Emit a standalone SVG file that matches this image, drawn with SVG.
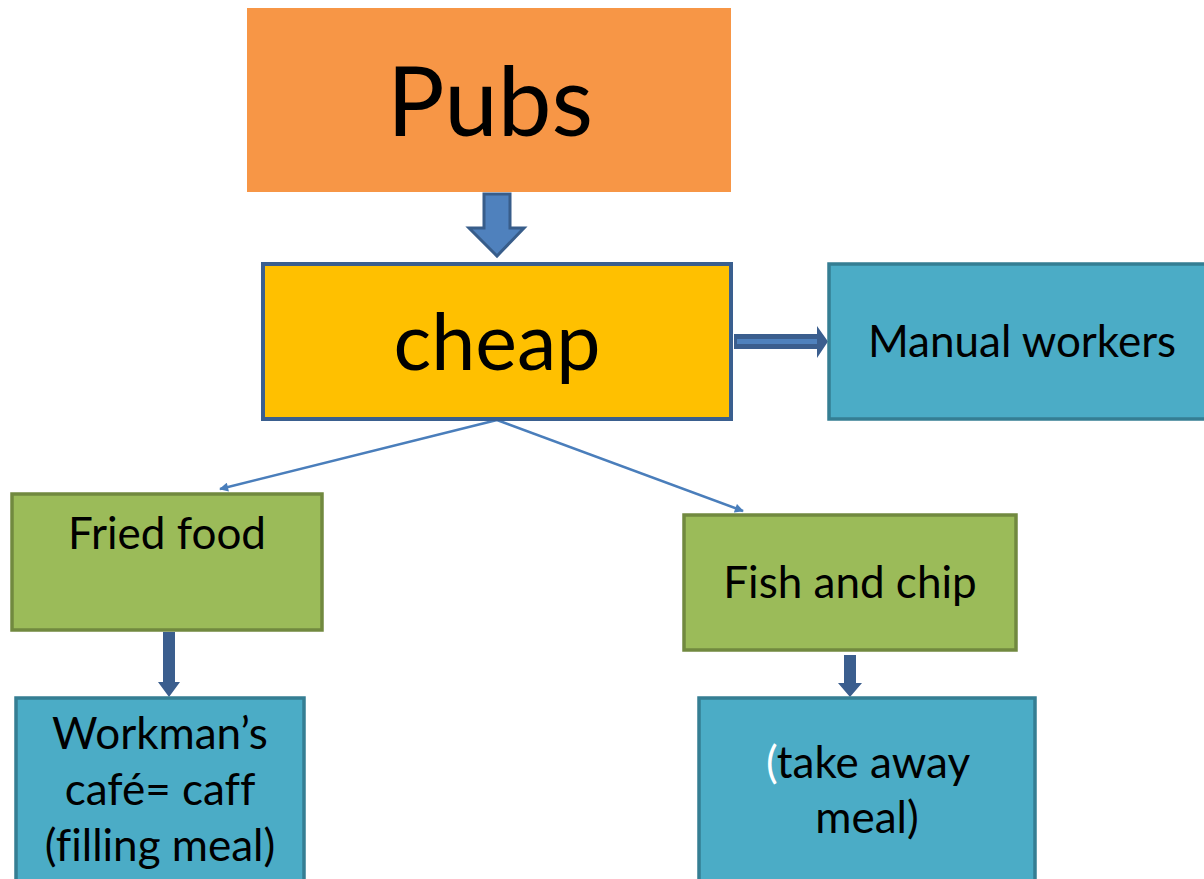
<svg xmlns="http://www.w3.org/2000/svg" width="1204" height="879" viewBox="0 0 1204 879">
<defs>
<style>
text{font-family:Lato,"Open Sans","Liberation Sans",sans-serif;fill:#000;text-anchor:middle;font-variant-ligatures:none}
.t{font-size:44px}
.blue{fill:#4BACC6;stroke:#357E93;stroke-width:3.5}
.green{fill:#9BBB59;stroke:#71893F;stroke-width:3.5}
.thin{stroke:#4A7EBB;stroke-width:2.5;fill:none}
.dk{fill:#3B5E8E}
</style>
<marker id="ah" viewBox="0 0 10 10" refX="9" refY="5" markerWidth="10" markerHeight="9" markerUnits="userSpaceOnUse" orient="auto"><path d="M0,0 L10,5 L0,10 z" fill="#4A7EBB"/></marker>
</defs>
<g id="connectors">
<path d="M484,194 H510 V228 H524 L497,256 L469,228 H484 Z" fill="#4F81BD" stroke="#385D8A" stroke-width="3" stroke-linejoin="miter"/>
<path d="M734,334 H817 V326 L828,341.5 L817,358 V349 H734 Z" fill="#3B5E8E"/>
<rect x="737" y="339" width="80" height="5" fill="#4F81BD"/>
<path class="thin" d="M497,420 L220,489" marker-end="url(#ah)"/>
<path class="thin" d="M497,420 L743,511" marker-end="url(#ah)"/>
<path class="dk" d="M163,632 H175 V682 H180 L169,697 L158,682 H163 Z"/>
<path class="dk" d="M844,655 H856 V683 H862 L850,697 L838,683 H844 Z"/>
</g>
<g id="pubs">
<rect x="247" y="8" width="484" height="184" fill="#F79646"/>
<text x="490" y="136" font-size="96">Pubs</text>
</g>
<g id="cheap">
<rect x="263" y="264" width="468" height="155" fill="#FFC000" stroke="#3A5F8F" stroke-width="4"/>
<text x="497" y="370" font-size="79">cheap</text>
</g>
<g id="manual">
<rect class="blue" x="829" y="264" width="390" height="155"/>
<text class="t" x="1022" y="357">Manual workers</text>
</g>
<g id="fried">
<rect class="green" x="12" y="494" width="310" height="136"/>
<text class="t" x="167" y="549">Fried food</text>
</g>
<g id="fish">
<rect class="green" x="684" y="515" width="332" height="135"/>
<text class="t" x="850" y="598">Fish and chip</text>
</g>
<g id="workman">
<rect class="blue" x="16" y="698" width="288" height="200"/>
<text class="t" x="160" y="749">Workman’s</text>
<text class="t" x="160" y="805">café= caff</text>
<text class="t" x="160" y="861">(filling meal)</text>
</g>
<g id="takeaway">
<rect class="blue" x="699" y="698" width="336" height="200"/>
<text class="t" x="868" y="778"><tspan fill="#fff">(</tspan>take away</text>
<text class="t" x="867" y="833">meal)</text>
</g>
</svg>
